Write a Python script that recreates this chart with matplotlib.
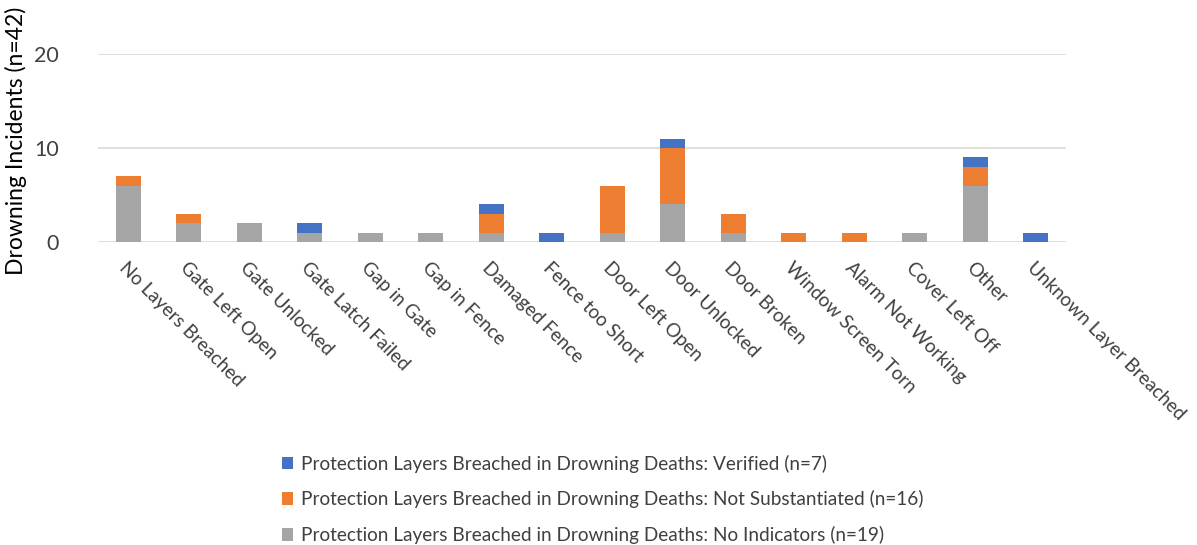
import matplotlib.pyplot as plt
import numpy as np

# Category labels and stacked series values
categories = ["No Layers Breached", "Gate Left Open", "Gate Unlocked", "Gate Latch Failed",
              "Gap in Gate", "Gap in Fence", "Damaged Fence", "Fence too Short",
              "Door Left Open", "Door Unlocked", "Door Broken", "Window Screen Torn",
              "Alarm Not Working", "Cover Left Off", "Other", "Unknown Layer Breached"]
no_indicators = [6, 2, 2, 1, 1, 1, 1, 0, 1, 4, 1, 0, 0, 1, 6, 0]
not_substantiated = [1, 1, 0, 0, 0, 0, 2, 0, 5, 6, 2, 1, 1, 0, 2, 0]
verified = [0, 0, 0, 1, 0, 0, 1, 1, 0, 1, 0, 0, 0, 0, 1, 1]

series_labels = ["Protection Layers Breached in Drowning Deaths: No Indicators (n=19)",
                 "Protection Layers Breached in Drowning Deaths: Not Substantiated (n=16)",
                 "Protection Layers Breached in Drowning Deaths: Verified (n=7)"]
colors = ["#A5A5A5", "#ED7D31", "#4472C4"]

plt.rcParams['font.family'] = ['Lato', 'DejaVu Sans']

fig = plt.figure(figsize=(11.97, 5.45), dpi=100)
ax = fig.add_axes([98 / 1197, 1 - 242 / 545, 968 / 1197, 188 / 545])

x = np.arange(len(categories))
bottom = np.zeros(len(categories))
bars = []
for vals, col, lab in zip([no_indicators, not_substantiated, verified], colors, series_labels):
    b = ax.bar(x, vals, width=0.41, bottom=bottom, color=col, label=lab, zorder=3)
    bars.append(b)
    bottom += np.array(vals)

ax.set_xlim(-0.5, len(categories) - 0.5)
ax.set_ylim(0, 20)
ax.set_yticks([0, 10, 20])
ax.yaxis.grid(True, color="#D9D9D9", linewidth=1.2, zorder=0)
ax.set_axisbelow(True)
for s in ax.spines.values():
    s.set_visible(False)
ax.tick_params(axis='both', length=0, labelsize=15.5, colors="#404040")
ax.tick_params(axis='y', pad=28)
ax.set_xticks(x)
ax.set_xticklabels(categories, rotation=-45, ha='left', va='top',
                   rotation_mode='anchor', fontsize=13.6)
ax.tick_params(axis='x', pad=12)
ax.set_ylabel("Drowning Incidents (n=42)", fontsize=16.5, color="#000000")
ax.yaxis.set_label_coords(-0.073, 0.54)

handles = bars[::-1]
labels = series_labels[::-1]
fig.legend(handles, labels, loc='upper left', bbox_to_anchor=(272 / 1197, 1 - 445 / 545),
           frameon=False, fontsize=13.7, handlelength=0.62, handleheight=0.62,
           handletextpad=0.4, labelspacing=0.93, borderpad=0, labelcolor="#404040")

fig.savefig("out.png", dpi=100)
